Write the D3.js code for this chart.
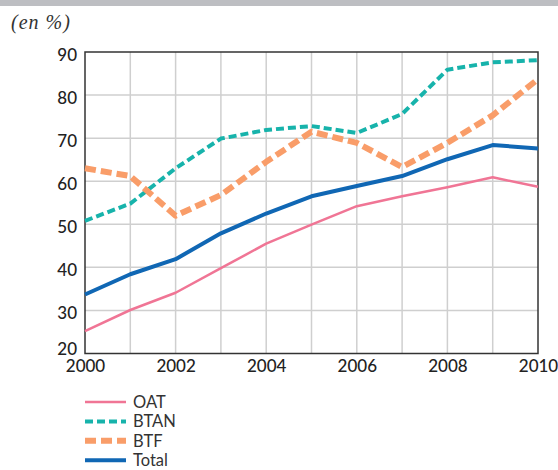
<!DOCTYPE html>
<html lang="fr">
<head>
<meta charset="UTF-8">
<title>Taux de détention (en %)</title>
<script src="https://d3js.org/d3.v7.min.js"></script>
<style>
  body { margin: 0; background: #fff; }
  svg { display: block; }
</style>
</head>
<body>
<svg id="chart" width="558" height="470"></svg>
<script>
// data
const years = [2000, 2001, 2002, 2003, 2004, 2005, 2006, 2007, 2008, 2009, 2010];
const oat   = [25.2, 30.1, 34.1, 39.8, 45.5, 49.9, 54.2, 56.5, 58.6, 60.9, 58.7];
const btan  = [50.8, 54.8, 63.0, 69.9, 71.9, 72.8, 71.2, 75.6, 85.9, 87.6, 88.1];
const btf   = [63.0, 61.2, 52.0, 56.8, 64.5, 71.5, 68.9, 63.3, 68.9, 75.3, 83.7];
const total = [33.7, 38.4, 41.9, 47.9, 52.5, 56.5, 58.9, 61.2, 65.1, 68.4, 67.6];
const yTicks = [20, 30, 40, 50, 60, 70, 80, 90];
const xTicks = [2000, 2002, 2004, 2006, 2008, 2010];

const series = [
  { name: "OAT",   values: oat,   color: "#f07595", width: 2.5, dash: null },
  { name: "BTAN",  values: btan,  color: "#17b3ab", width: 4,   dash: "8,4" },
  { name: "BTF",   values: btf,   color: "#f99d69", width: 6,   dash: "11,5" },
  { name: "Total", values: total, color: "#1067b4", width: 4,   dash: null }
];

const svg = d3.select("#chart");
const font = "Lato, 'Open Sans', sans-serif";

// grey band across the top
svg.append("rect").attr("x", 0).attr("y", 0).attr("width", 558).attr("height", 6).attr("fill", "#bdbec2");

svg.append("text")
  .attr("x", 11).attr("y", 29)
  .attr("font-family", "'Liberation Serif', serif")
  .attr("font-style", "italic")
  .attr("font-size", "20px")
  .attr("letter-spacing", "1px")
  .attr("fill", "#333")
  .text("(en %)");

const x = d3.scaleLinear().domain([2000, 2010]).range([85, 538]);
const y = d3.scaleLinear().domain([20, 90]).range([353.5, 52]);

const g = svg.append("g");

// grid
g.selectAll("line.vgrid")
  .data(years.slice(1, -1))
  .enter().append("line")
  .attr("x1", d => x(d)).attr("x2", d => x(d))
  .attr("y1", y(20)).attr("y2", y(90))
  .attr("stroke", "#cfcfcf").attr("stroke-width", 1.5);

g.selectAll("line.hgrid")
  .data(yTicks.slice(1, -1))
  .enter().append("line")
  .attr("x1", x(2000)).attr("x2", x(2010))
  .attr("y1", d => y(d)).attr("y2", d => y(d))
  .attr("stroke", "#cfcfcf").attr("stroke-width", 1.5);

// frame
g.append("rect")
  .attr("x", x(2000)).attr("y", y(90))
  .attr("width", x(2010) - x(2000)).attr("height", y(20) - y(90))
  .attr("fill", "none").attr("stroke", "#333").attr("stroke-width", 1.5);

// axes labels
const yAxis = g.append("g")
  .attr("transform", `translate(${x(2000)},0)`)
  .call(d3.axisLeft(y).tickValues(yTicks).tickSize(0).tickPadding(8));
yAxis.select(".domain").remove();
yAxis.selectAll("text")
  .attr("font-family", font).attr("font-size", "17px").attr("fill", "#222")
  .attr("font-weight", 500)
  .attr("dy", d => d === 20 ? "0.05em" : "0.5em");

const xAxis = g.append("g")
  .attr("transform", `translate(0,${y(20)})`)
  .call(d3.axisBottom(x).tickValues(xTicks).tickFormat(d3.format("d")).tickSize(0).tickPadding(6));
xAxis.select(".domain").remove();
xAxis.selectAll("text")
  .attr("font-family", font).attr("font-size", "17px").attr("fill", "#222")
  .attr("font-weight", 500);

// lines
const line = d3.line()
  .x((d, i) => x(years[i]))
  .y(d => y(d));

series.forEach(s => {
  g.append("path")
    .datum(s.values)
    .attr("fill", "none")
    .attr("stroke", s.color)
    .attr("stroke-width", s.width)
    .attr("stroke-dasharray", s.dash)
    .attr("stroke-linejoin", "round")
    .attr("d", line);
});

// legend
const legend = svg.append("g").attr("transform", "translate(85,402)");
series.forEach((s, i) => {
  const row = legend.append("g").attr("transform", `translate(0,${i * 19.4})`);
  row.append("line")
    .attr("x1", 0).attr("x2", 41).attr("y1", 0).attr("y2", 0)
    .attr("stroke", s.color)
    .attr("stroke-width", s.width)
    .attr("stroke-dasharray", s.dash);
  row.append("text")
    .attr("x", 48).attr("y", 6)
    .attr("font-family", font).attr("font-size", "16.5px").attr("fill", "#333")
    .text(s.name);
});
</script>
</body>
</html>
